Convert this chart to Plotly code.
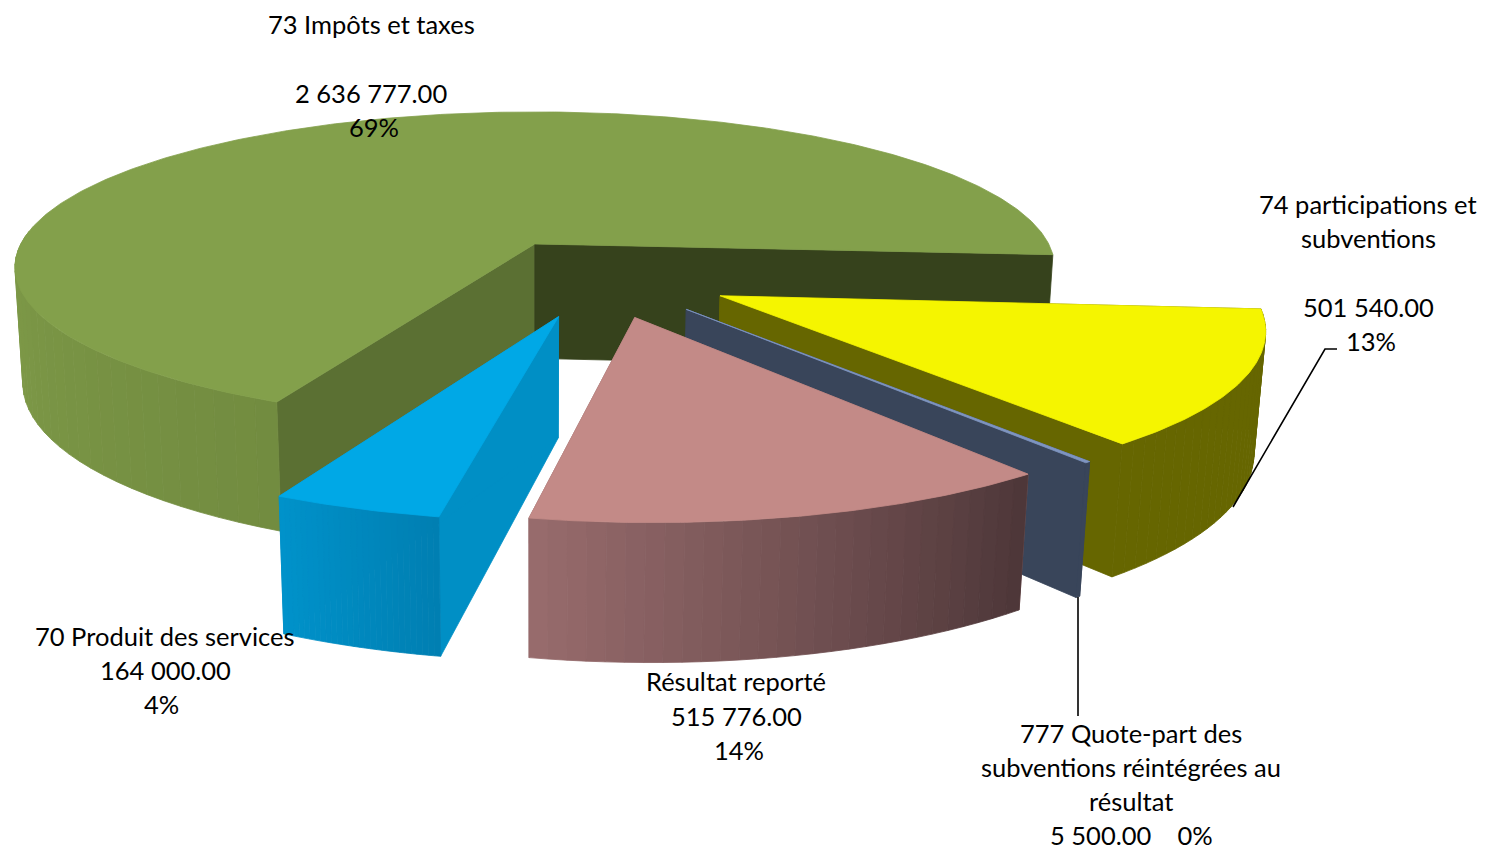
import math
import plotly.graph_objects as go

# ---- data (clockwise order, starting at the right of the pie)
categories = ["74 participations et subventions", "777 Quote-part des subventions réintégrées au résultat",
              "Résultat reporté", "70 Produit des services", "73 Impôts et taxes"]
values = [501540.00, 5500.00, 515776.00, 164000.00, 2636777.00]
percent_labels = ["13%", "0%", "14%", "4%", "69%"]

# ---- styles
top_colors = ["#F5F500", "#7F95C0", "#C38A87", "#00A8E6", "#83A04B"]
wall_colors = [("#666600", "#666600"), ("#39455A", "#39455A"), ("#8F6768", "#8F6768"),
               ("#008FC5", "#008FC5"), ("#5B7033", "#36421C")]
side_stops = [("#666600", "#666600"), ("#39455A", "#39455A"), ("#976B6C", "#4E3739"),
              ("#0092CA", "#007FB2"), ("#809C49", "#728C40")]
draw_order = [4, 0, 1, 2, 3]

# ---- projection of the 3-D pie
CX, CY, A, B, C, P, Q = 535.0, 243.0, 515.0, 152.0, 116.0, 0.15, 0.015
FIRST_ANGLE = -4.0
EXPLODE = [0.25, 0.25, 0.25, 0.25, 0.24]
RADIUS = [0.985, 0.985, 0.985, 0.985, 0.997]
ANGLE_SHIFT = [-0.5, -0.5, -0.8, -0.8, 0.0]
CENTRE = (0.12, -0.214)
BANDS = 28
FRONT_LIMIT = -185.0


def project(X, Y, h=0.0):
    w = 1 + P * Y + Q * h
    return CX + A * X / w, CY + (-B * Y + C * h) / w


def hex_mix(c1, c2, t):
    a = [int(c1[i:i + 2], 16) for i in (1, 3, 5)]
    b = [int(c2[i:i + 2], 16) for i in (1, 3, 5)]
    return "#%02X%02X%02X" % tuple(round(x + (y - x) * t) for x, y in zip(a, b))


fig = go.Figure()


def poly(points, color):
    xs = [p[0] for p in points] + [points[0][0]]
    ys = [p[1] for p in points] + [points[0][1]]
    fig.add_trace(go.Scatter(x=xs, y=ys, mode="lines", fill="toself", fillcolor=color,
                             line=dict(color=color, width=0.8), hoverinfo="skip", showlegend=False))


total = sum(values)
spans = []
angle = FIRST_ANGLE
for v in values:
    a1 = angle - 360.0 * v / total
    spans.append((angle, a1))
    angle = a1

for idx in draw_order:
    start, end = spans[idx]
    mid = math.radians((start + end) / 2)
    ox = CENTRE[0] + EXPLODE[idx] * math.cos(mid)
    oy = CENTRE[1] + EXPLODE[idx] * math.sin(mid)
    start += ANGLE_SHIFT[idx]
    end += ANGLE_SHIFT[idx]
    r = RADIUS[idx]

    def rim(a):
        return ox + r * math.cos(math.radians(a)), oy + r * math.sin(math.radians(a))

    # the two cut faces
    for k, edge in enumerate((start, end)):
        ex, ey = rim(edge)
        poly([project(ox, oy), project(ex, ey), project(ex, ey, 1), project(ox, oy, 1)], wall_colors[idx][k])

    # the curved outer face: only the part that faces the viewer, in bands
    hi = start
    lo = max(end, FRONT_LIMIT)
    bands = BANDS if idx != 1 else 1
    for b in range(bands):
        a0 = lo + (hi - lo) * b / bands
        a1 = lo + (hi - lo) * (b + 1) / bands
        fine = [a0 + (a1 - a0) * j / 6 for j in range(7)]
        upper = [project(*rim(a)) for a in fine]
        lower = [project(*rim(a), 1) for a in reversed(fine)]
        poly(upper + lower, hex_mix(side_stops[idx][0], side_stops[idx][1], b / max(1, bands - 1)))

    # the top face
    pts = [project(ox, oy)]
    steps = max(6, int(abs(end - start) * 1.5))
    for i in range(steps + 1):
        pts.append(project(*rim(start + (end - start) * i / steps)))
    poly(pts, top_colors[idx])


def money(v):
    return f"{v:,.2f}".replace(",", " ")


label_lines = [
    (371, 24, "73 Impôts et taxes"),
    (371, 93, money(values[4])),
    (374, 127, percent_labels[4]),
    (1368, 204, "74 participations et"),
    (1368, 238, "subventions"),
    (1368, 307, money(values[0])),
    (1371, 341, percent_labels[0]),
    (165, 636, "70 Produit des services"),
    (165, 670, money(values[3])),
    (161, 704, percent_labels[3]),
    (736, 681, "Résultat reporté"),
    (736, 716, money(values[2])),
    (739, 750, percent_labels[2]),
    (1131, 733, "777 Quote-part des"),
    (1131, 767, "subventions réintégrées au"),
    (1131, 801, "résultat"),
    (1131, 835, money(values[1]) + "\u00a0\u00a0\u00a0\u00a0" + percent_labels[1]),
]
FONT = dict(family="Lato, Carlito, sans-serif", size=25.5, color="#000000")
for x, y, s in label_lines:
    fig.add_annotation(x=x, y=y, text=s, showarrow=False, font=FONT, xanchor="center", yanchor="middle")

# leader lines
for path in ("M1078,597 L1078,716", "M1337,349 L1325,349 L1233,507"):
    fig.add_shape(type="path", path=path, line=dict(color="#000000", width=1.6), layer="above")

fig.update_layout(
    width=1486, height=850, margin=dict(l=0, r=0, t=0, b=0), paper_bgcolor="white", plot_bgcolor="white",
    xaxis=dict(range=[0, 1486], visible=False, fixedrange=True),
    yaxis=dict(range=[850, 0], visible=False, fixedrange=True),
    showlegend=False,
)
fig.write_html("out.html", post_script="document.body.style.margin='0';document.body.style.overflow='hidden';",
               config=dict(displayModeBar=False))
